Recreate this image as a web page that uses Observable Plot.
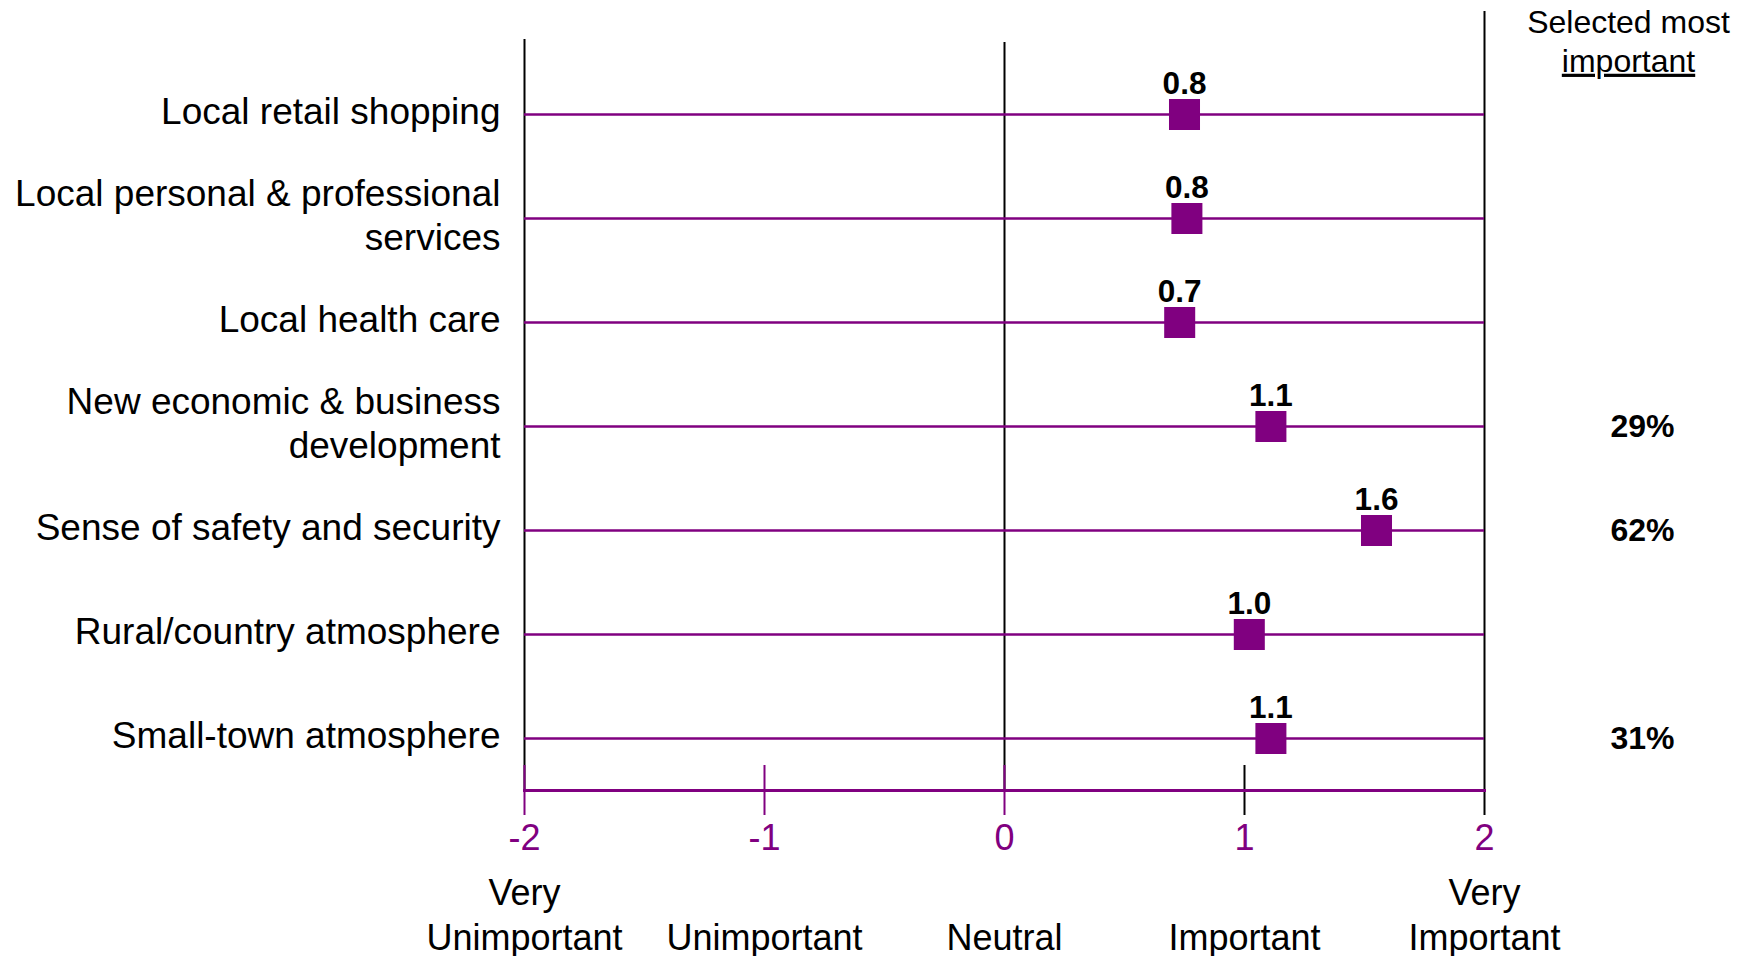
<!DOCTYPE html>
<html>
<head>
<meta charset="utf-8">
<script src="https://cdn.jsdelivr.net/npm/d3@7"></script>
<script src="https://cdn.jsdelivr.net/npm/@observablehq/plot@0.6"></script>
<style>
  html, body { margin: 0; padding: 0; background: #fff; }
  #chart svg { display: block; font-family: "Liberation Sans", Arial, sans-serif; }
</style>
</head>
<body>
<div id="chart"></div>
<script>
// ---- data ----
const categories = [
  "Local retail shopping",
  "Local personal & professional\nservices",
  "Local health care",
  "New economic & business\ndevelopment",
  "Sense of safety and security",
  "Rural/country atmosphere",
  "Small-town atmosphere"
];
const means = [0.75, 0.76, 0.73, 1.11, 1.55, 1.02, 1.11];
const meanLabels = ["0.8", "0.8", "0.7", "1.1", "1.6", "1.0", "1.1"];
const selectedMost = ["", "", "", "29%", "62%", "", "31%"];
const scaleTicks = [-2, -1, 0, 1, 2];
const scaleTickLabels = ["-2", "-1", "0", "1", "2"];
const scaleLabels = ["Very\nUnimportant", "Unimportant", "Neutral", "Important", "Very\nImportant"];
const headerText = ["Selected most", "important"];

// ---- table ----
const rows = categories.map((c, i) => ({
  category: c, mean: means[i], label: meanLabels[i], selected: selectedMost[i]
}));
const ticks = scaleTicks.map((v, i) => ({ v, tick: scaleTickLabels[i], label: scaleLabels[i] }));

const PURPLE = "#800080";
const FONT = "Liberation Sans, Arial, sans-serif";

const plot = Plot.plot({
  width: 1747,
  height: 956,
  marginLeft: 524,
  marginRight: 263,
  marginTop: 11,
  marginBottom: 166,
  style: { fontFamily: FONT, background: "#fff" },
  x: { domain: [-2, 2], axis: null },
  y: { type: "point", domain: categories, range: [114, 738], padding: 0, axis: null },
  marks: [
    // long black verticals
    Plot.ruleX([scaleTicks[0]], { stroke: "#000", strokeWidth: 2, insetTop: 28 }),
    Plot.ruleX([scaleTicks[2]], { stroke: "#000", strokeWidth: 2, insetTop: 31 }),
    Plot.ruleX([scaleTicks[4]], { stroke: "#000", strokeWidth: 2, insetBottom: -25 }),
    // tick marks around the axis
    Plot.ruleX(scaleTicks.filter(v => v < 1), { stroke: PURPLE, strokeWidth: 2, insetTop: 754, insetBottom: -25 }),
    Plot.ruleX(scaleTicks.filter(v => v === 1), { stroke: "#000", strokeWidth: 2, insetTop: 754, insetBottom: -25 }),
    // bottom axis line
    Plot.frame({ anchor: "bottom", stroke: PURPLE, strokeWidth: 3 }),
    // row lines
    Plot.ruleY(rows, { y: "category", x1: -2, x2: 2, stroke: PURPLE, strokeWidth: 2.5 }),
    // markers
    Plot.dot(rows, { x: "mean", y: "category", symbol: "square", r: 17.5, fill: PURPLE, stroke: null }),
    // value labels
    Plot.text(rows, { x: "mean", y: "category", text: "label", dy: -31, fontSize: 31.5, fontWeight: "bold", fill: "#000" }),
    // category labels
    Plot.text(rows, { y: "category", text: "category", frameAnchor: "left", dx: -24, dy: -5, textAnchor: "end", lineAnchor: "middle", fontSize: 37, lineHeight: 1.2, fill: "#000" }),
    // selected-most percentages
    Plot.text(rows, { y: "category", text: "selected", frameAnchor: "right", dx: 158, textAnchor: "middle", lineAnchor: "middle", fontSize: 32, fontWeight: "bold", fill: "#000" }),
    // header
    Plot.text([headerText[0]], { text: d => d, frameAnchor: "top-right", dx: 144, dy: 11, textAnchor: "middle", lineAnchor: "middle", fontSize: 32, fill: "#000" }),
    Plot.text([headerText[1]], { text: d => d, frameAnchor: "top-right", dx: 144, dy: 50, textAnchor: "middle", lineAnchor: "middle", fontSize: 32, fill: "#000", className: "underlined" }),
    // tick numbers
    Plot.text(ticks, { x: "v", text: "tick", frameAnchor: "bottom", dy: 48, lineAnchor: "middle", fontSize: 36, fill: PURPLE }),
    // scale labels
    Plot.text(ticks, { x: "v", text: "label", frameAnchor: "bottom", dy: 159, lineAnchor: "bottom", fontSize: 36, lineHeight: 1.24, fill: "#000" })
  ]
});

d3.select(plot).selectAll("g.underlined text").style("text-decoration", "underline");
document.getElementById("chart").appendChild(plot);
</script>
</body>
</html>
